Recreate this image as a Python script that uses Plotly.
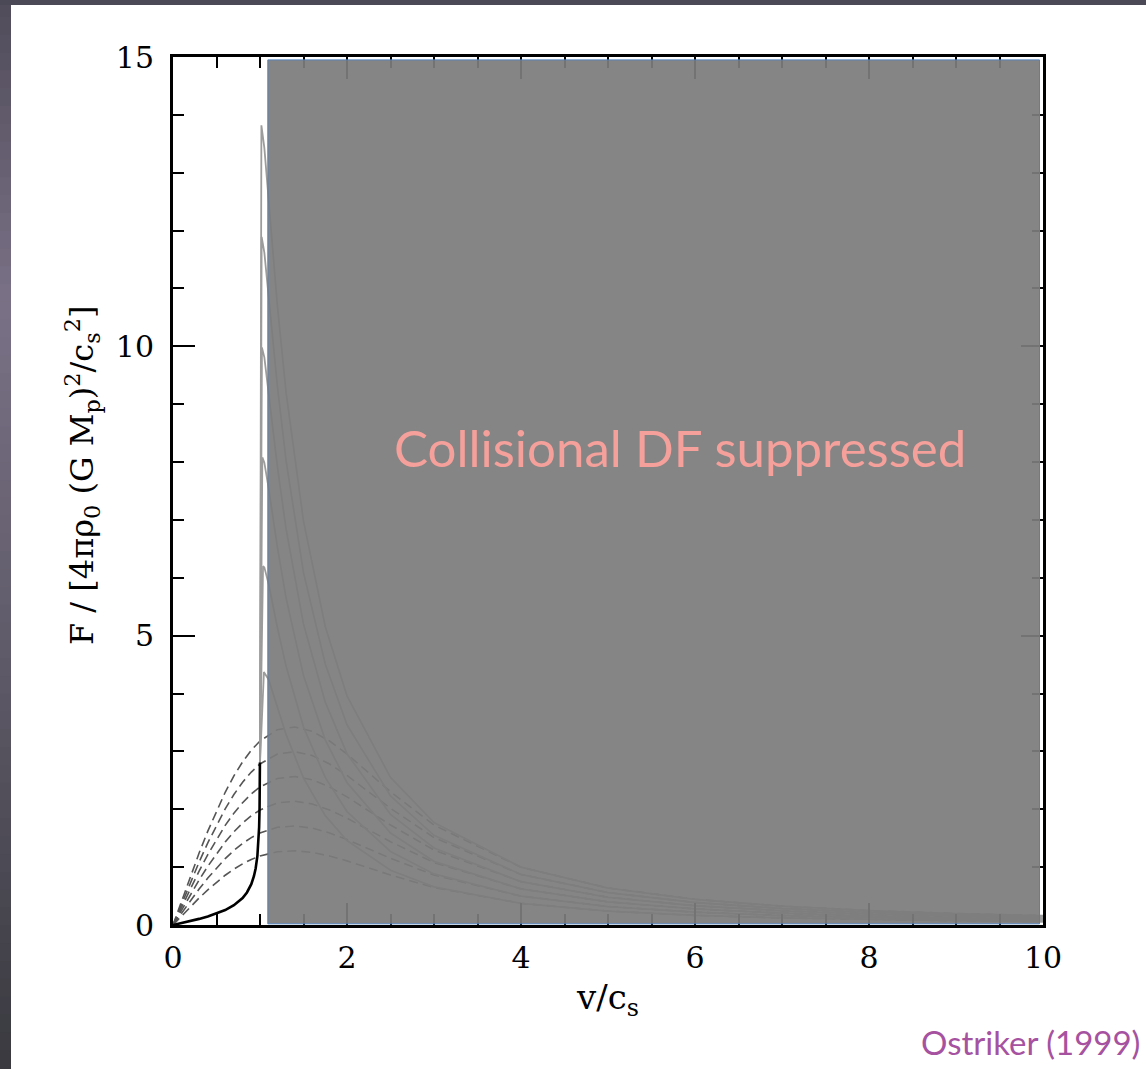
import plotly.graph_objects as go

# ---------------- data ----------------
# subsonic steady-state gaseous drag (black solid curve)
mach_sub = [0, 0.1, 0.2, 0.3, 0.4, 0.5, 0.6, 0.7, 0.8, 0.85, 0.9, 0.93, 0.95,
            0.97, 0.98, 0.99, 0.995, 0.998, 0.999]
force_sub = [0, 0.0335, 0.0683, 0.1058, 0.1478, 0.1972, 0.2587, 0.3414, 0.4666,
             0.5622, 0.7064, 0.8422, 0.9771, 1.1928, 1.3719, 1.6903, 2.0209,
             2.4652, 2.8068]

# collisionless (dashed) curves
mach_dash = [0, 0.1, 0.2, 0.3, 0.4, 0.5, 0.6, 0.7, 0.8, 0.9, 1.0, 1.2, 1.4, 1.6,
             1.8, 2.0, 2.5, 3, 4, 5, 6, 7, 8, 9, 10]
dash_1 = [0, 0.159, 0.315, 0.466, 0.608, 0.740, 0.860, 0.966, 1.057, 1.133, 1.193,
          1.266, 1.283, 1.255, 1.192, 1.108, 0.864, 0.647, 0.374, 0.240, 0.167,
          0.122, 0.094, 0.074, 0.060]
dash_2 = [0, 0.212, 0.420, 0.621, 0.811, 0.987, 1.147, 1.288, 1.410, 1.510, 1.590,
          1.688, 1.711, 1.674, 1.590, 1.477, 1.152, 0.863, 0.499, 0.320, 0.222,
          0.163, 0.125, 0.099, 0.080]
dash_3 = [0, 0.265, 0.526, 0.777, 1.014, 1.234, 1.434, 1.611, 1.762, 1.888, 1.988,
          2.110, 2.139, 2.092, 1.987, 1.846, 1.440, 1.079, 0.624, 0.400, 0.278,
          0.204, 0.156, 0.123, 0.100]
dash_4 = [0, 0.318, 0.631, 0.932, 1.217, 1.480, 1.721, 1.933, 2.114, 2.266, 2.386,
          2.532, 2.567, 2.510, 2.384, 2.215, 1.728, 1.295, 0.749, 0.480, 0.333,
          0.245, 0.188, 0.148, 0.120]
dash_5 = [0, 0.371, 0.736, 1.087, 1.420, 1.727, 2.008, 2.255, 2.467, 2.643, 2.783,
          2.954, 2.995, 2.929, 2.782, 2.584, 2.016, 1.511, 0.874, 0.560, 0.389,
          0.286, 0.219, 0.172, 0.140]
dash_6 = [0, 0.424, 0.841, 1.243, 1.622, 1.974, 2.294, 2.577, 2.819, 3.021, 3.181,
          3.376, 3.422, 3.347, 3.179, 2.954, 2.304, 1.726, 0.998, 0.640, 0.444,
          0.326, 0.250, 0.197, 0.160]

# time-dependent gaseous (solid grey) curves
rise_mach = 1.0
rise_force = 2.8
peak_mach = [1.045, 1.035, 1.027, 1.022, 1.019, 1.016]
peak_force = [4.37, 6.20, 8.08, 9.98, 11.89, 13.82]
mach_super = [1.05, 1.1, 1.2, 1.3, 1.5, 1.75, 2, 2.5, 3, 4, 5, 6, 7, 8, 9, 10]
solid_1 = [4.36, 4.24, 3.75, 3.29, 2.54, 1.89, 1.46, 0.946, 0.660, 0.373, 0.239,
           0.166, 0.122, 0.094, 0.074, 0.060]
solid_2 = [6.18, 5.89, 5.14, 4.47, 3.42, 2.55, 1.96, 1.27, 0.882, 0.498, 0.319,
           0.222, 0.163, 0.125, 0.099, 0.080]
solid_3 = [7.99, 7.54, 6.53, 5.65, 4.31, 3.20, 2.46, 1.59, 1.10, 0.623, 0.399,
           0.277, 0.204, 0.156, 0.123, 0.100]
solid_4 = [9.81, 9.19, 7.92, 6.84, 5.20, 3.85, 2.96, 1.91, 1.33, 0.748, 0.479,
           0.333, 0.245, 0.187, 0.148, 0.120]
solid_5 = [11.62, 10.85, 9.31, 8.02, 6.09, 4.51, 3.46, 2.23, 1.55, 0.873, 0.559,
           0.389, 0.285, 0.219, 0.173, 0.140]
solid_6 = [13.43, 12.50, 10.70, 9.20, 6.98, 5.16, 3.96, 2.55, 1.77, 1.00, 0.639,
           0.444, 0.326, 0.250, 0.197, 0.160]

# suppressed region
shade_x = [1.09, 9.96]
shade_y = [0.02, 14.95]

x_ticks = [0, 2, 4, 6, 8, 10]
y_ticks = [0, 5, 10, 15]

x_title = "v/c<sub>s</sub>"
y_title = "F / [4πρ<sub>0</sub> (G M<sub>p</sub>)<sup>2</sup>/c<sub>s</sub><sup>2</sup>]"

# ---------------- figure ----------------
W, H = 1146, 1069
L_M, R_M, T_M, B_M = 173, 103, 57, 144
PW, PH = W - L_M - R_M, H - T_M - B_M


def px(p):
    return (p - L_M) / PW


def py(p):
    return (H - B_M - p) / PH


fig = go.Figure()

for ys in [dash_1, dash_2, dash_3, dash_4, dash_5, dash_6]:
    fig.add_trace(go.Scatter(x=mach_dash, y=ys, mode="lines",
                             line=dict(color="#555555", width=1.6, dash="9px,5px"),
                             showlegend=False, hoverinfo="skip"))

solids = [solid_1, solid_2, solid_3, solid_4, solid_5, solid_6]
for pm, pf, ys in zip(peak_mach, peak_force, solids):
    fig.add_trace(go.Scatter(x=[rise_mach, pm] + mach_super,
                             y=[rise_force, pf] + ys, mode="lines",
                             line=dict(color="#9c9c9c", width=1.8),
                             showlegend=False, hoverinfo="skip"))

fig.add_trace(go.Scatter(x=mach_sub, y=force_sub, mode="lines",
                         line=dict(color="black", width=2.6),
                         showlegend=False, hoverinfo="skip"))

shapes = []
# slide background strips (smooth vertical gradient on the left edge)
stops = [(0, (80, 76, 90)), (300, (122, 113, 134)), (600, (100, 95, 110)),
         (1069, (58, 58, 64))]
nseg = 60
for i in range(nseg):
    y0p = H * i / nseg
    y1p = H * (i + 1) / nseg
    ym = (y0p + y1p) / 2
    c = stops[-1][1]
    for (a, ca), (b, cb) in zip(stops[:-1], stops[1:]):
        if a <= ym <= b:
            t = (ym - a) / (b - a)
            c = tuple(int(ca[k] + (cb[k] - ca[k]) * t) for k in range(3))
            break
    shapes.append(dict(type="rect", xref="paper", yref="paper",
                       x0=px(-2), x1=px(11), y0=py(y1p + 2), y1=py(y0p - 1),
                       fillcolor="rgb(%d,%d,%d)" % c, line=dict(width=0),
                       layer="below"))
shapes.append(dict(type="rect", xref="paper", yref="paper",
                   x0=px(-2), x1=px(W + 2), y0=py(5), y1=py(-2),
                   fillcolor="rgb(76,73,86)", line=dict(width=0), layer="below"))

# grey overlay
shapes.append(dict(type="rect", xref="x", yref="y",
                   x0=shade_x[0], x1=shade_x[1], y0=shade_y[0], y1=shade_y[1],
                   fillcolor="rgba(124,124,124,0.93)",
                   line=dict(color="#4f81bd", width=1), layer="above"))

fig.update_layout(
    width=W, height=H,
    margin=dict(l=L_M, r=R_M, t=T_M, b=B_M),
    paper_bgcolor="white", plot_bgcolor="white",
    shapes=shapes,
    annotations=[
        dict(text="Collisional DF suppressed", x=5.83, y=8.26, xref="x", yref="y",
             xanchor="center", yanchor="middle", showarrow=False,
             font=dict(family="Lato", size=51, color="#f5a09b")),
        dict(text="Ostriker (1999)", x=px(1030), y=py(1042), xref="paper",
             yref="paper", xanchor="center", yanchor="middle", showarrow=False,
             font=dict(family="Lato", size=33, color="#a652a0")),
        dict(text=y_title, x=px(82), y=py(476), xref="paper", yref="paper",
             xanchor="center", yanchor="middle", textangle=-90, showarrow=False,
             font=dict(family="DejaVu Serif", size=32, color="black")),
    ],
)

axis_common = dict(
    showgrid=False, zeroline=False, showline=True, linecolor="black", linewidth=3,
    mirror="allticks", ticks="inside", ticklen=22, tickwidth=2, tickcolor="black",
    tickfont=dict(family="DejaVu Serif", size=30, color="black"),
)

fig.update_xaxes(range=[0, 10], tickvals=x_ticks, ticktext=[str(v) for v in x_ticks],
                 minor=dict(dtick=0.5, ticklen=11, tickwidth=2, ticks="inside",
                            tickcolor="black"),
                 ticklabelstandoff=4,
                 title=dict(text=x_title, standoff=12,
                            font=dict(family="DejaVu Serif", size=34, color="black")),
                 **axis_common)
fig.update_yaxes(range=[0, 15], tickvals=y_ticks, ticktext=[str(v) for v in y_ticks],
                 minor=dict(dtick=1, ticklen=11, tickwidth=2, ticks="inside",
                            tickcolor="black"),
                 ticklabelstandoff=10,
                 **axis_common)

fig.write_html("out.html")
